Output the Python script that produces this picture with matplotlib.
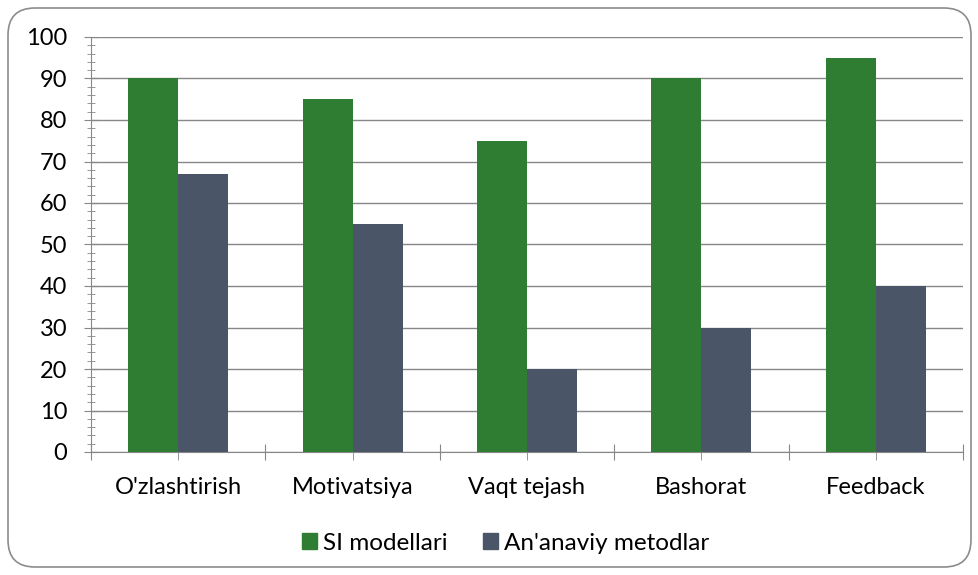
import matplotlib.pyplot as plt
import matplotlib.patches as mpatches
from matplotlib.ticker import MultipleLocator, FixedLocator
import numpy as np

plt.rcParams['font.family'] = ['Lato', 'DejaVu Sans']

categories = ["O'zlashtirish", "Motivatsiya", "Vaqt tejash", "Bashorat", "Feedback"]
si_modellari = [90, 85, 75, 90, 95]
an_anaviy = [67, 55, 20, 30, 40]

green = '#2E7D32'
gray = '#4A5568'
line_col = '#878787'

fig = plt.figure(figsize=(9.79, 5.75), dpi=100)
ax = fig.add_axes([91/979, 1-452/575, (963-91)/979, (452-37)/575])

x = np.arange(len(categories))
w = 0.287
ax.bar(x - w/2, si_modellari, w, color=green, zorder=3, label='SI modellari')
ax.bar(x + w/2, an_anaviy, w, color=gray, zorder=3, label="An'anaviy metodlar")

ax.set_xlim(-0.5, len(categories) - 0.5)
ax.set_ylim(0, 100)
ax.yaxis.set_major_locator(MultipleLocator(10))
ax.yaxis.set_minor_locator(MultipleLocator(2))
ax.grid(axis='y', color=line_col, linewidth=1, zorder=0)

ax.xaxis.set_major_locator(FixedLocator(np.arange(-0.5, len(categories), 1)))
ax.xaxis.set_minor_locator(FixedLocator(x))
ax.set_xticks(x, categories, minor=True)
ax.set_xticklabels([''] * (len(categories) + 1))

for s in ['top', 'right']:
    ax.spines[s].set_visible(False)
for s in ['left', 'bottom']:
    ax.spines[s].set_color(line_col)

ax.tick_params(axis='y', which='major', direction='inout', length=10, color=line_col, labelsize=17, pad=12)
ax.tick_params(axis='y', which='minor', direction='inout', length=6, color=line_col)
ax.tick_params(axis='x', which='major', direction='inout', length=12, color=line_col)
ax.tick_params(axis='x', which='minor', direction='out', length=6, color=line_col, labelsize=17, pad=12)

handles = [mpatches.Patch(color=green, label='SI modellari'),
           mpatches.Patch(color=gray, label="An'anaviy metodlar")]
fig.legend(handles=handles, loc='center', bbox_to_anchor=(505.5/979, 1-543/575), ncol=2,
           frameon=False, fontsize=17.5, handlelength=0.62, handleheight=0.62,
           handletextpad=0.25, columnspacing=1.45)

border = mpatches.FancyBboxPatch((0.08, 0.08), 9.63, 5.59,
                                 boxstyle='round,pad=0,rounding_size=0.27',
                                 transform=fig.dpi_scale_trans, fill=False,
                                 edgecolor='#8c8c8c', linewidth=1.2)
fig.patches.append(border)

fig.savefig('out.png', dpi=100)
